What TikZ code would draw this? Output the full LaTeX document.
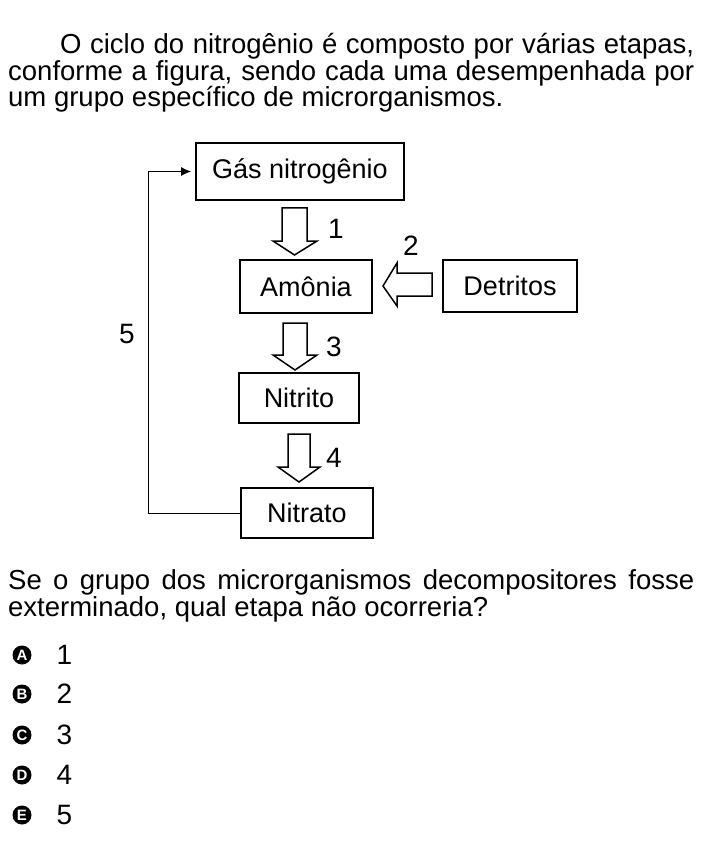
\documentclass[tikz,border=0pt]{standalone}
\usepackage{fontspec}
\setmainfont{Liberation Sans}
\usetikzlibrary{arrows.meta}
\begin{document}
\begin{tikzpicture}[x=1pt,y=-1pt,
  box/.style={draw,line width=1.8pt,inner sep=0pt,font=\fontsize{27}{30}\selectfont},
  lab/.style={font=\fontsize{28}{30}\selectfont},
  txt/.style={anchor=base west,inner sep=0pt,font=\fontsize{27.5}{30}\selectfont},
  hol/.style={draw,line width=1.5pt,fill=white},
  opt/.style={circle,fill=black,text=white,inner sep=0pt,minimum size=19pt,font=\bfseries\fontsize{15}{15}\selectfont}]
\useasboundingbox (0,0) rectangle (702,842);
% paragraph
\node[txt] (p1) at (60,54) {\makebox[634pt][s]{O ciclo do nitrogênio é composto por várias etapas,}};
\node[txt] (p2) at (8,81) {\makebox[686pt][s]{conforme a figura, sendo cada uma desempenhada por}};
\node[txt] (p3) at (8,107) {um grupo específico de microrganismos.};
% boxes
\node[box,minimum width=208pt,minimum height=57pt] (gas) at (300,171.5) {Gás nitrogênio};
\node[box,minimum width=132pt,minimum height=53pt] (amo) at (306,286.5) {Amônia};
\node[box,minimum width=134pt,minimum height=52pt] (det) at (510,286) {Detritos};
\node[box,minimum width=120pt,minimum height=50pt] (nii) at (299,398) {Nitrito};
\node[box,minimum width=132pt,minimum height=50pt] (nia) at (307,513) {Nitrato};
% hollow arrows
\draw[hol] (282,208)--(307,208)--(307,241)--(317,241)--(294.5,255)--(273,241)--(282,241)--cycle;
\draw[hol] (283,323)--(307,323)--(307,355)--(317,355)--(295,370)--(273,355)--(283,355)--cycle;
\draw[hol] (288,434)--(310,434)--(310,467)--(320,467)--(299,482)--(278,467)--(288,467)--cycle;
\draw[hol] (432,273)--(432,296)--(397,296)--(397,306)--(383,286)--(397,263)--(397,273)--cycle;
\node[lab] (l1) at (336,229) {1};
\node[lab] (l2) at (411,246) {2};
\node[lab] (l3) at (334,347) {3};
\node[lab] (l4) at (334,458) {4};
\node[lab] (l5) at (127,334) {5};
\coordinate (c1) at (148,513);
\coordinate (c2) at (148,171.5);
\draw[line width=0.9pt,-{Latex[length=10pt,width=9pt]}] (nia.west)--(c1)--(c2)--([xshift=-4pt]gas.west);
% question
\node[txt] (q1) at (8,589) {\makebox[686pt][s]{Se o grupo dos microrganismos decompositores fosse}};
\node[txt] (q2) at (8,616) {exterminado, qual etapa não ocorreria?};
\foreach \l/\n/\y in {A/1/655,B/2/694,C/3/735,D/4/775,E/5/815}{
  \node[opt] (o\l) at (22,\y) {\l};
  \node[lab,anchor=west] (n\l) at (53,\y) {\n};
}
\end{tikzpicture}
\end{document}
